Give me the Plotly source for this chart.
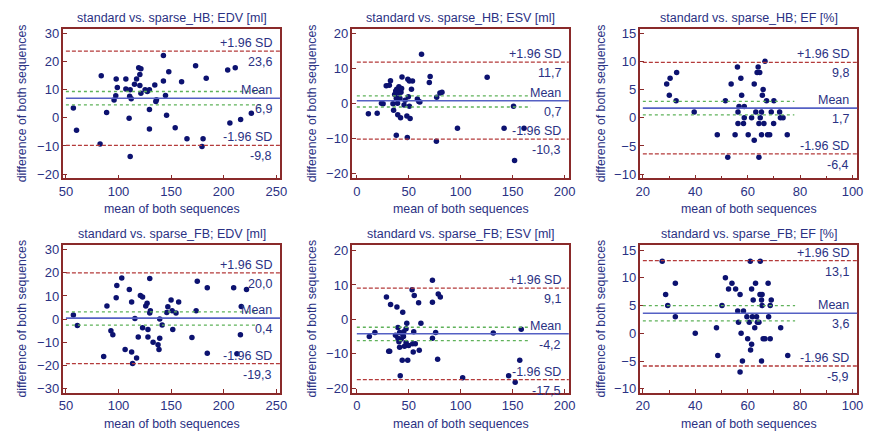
import plotly.graph_objects as go

W, H = 877, 436

titles = [
    "standard vs. sparse_HB; EDV [ml]",
    "standard vs. sparse_HB; ESV [ml]",
    "standard vs. sparse_HB; EF [%]",
    "standard vs. sparse_FB; EDV [ml]",
    "standard vs. sparse_FB; ESV [ml]",
    "standard vs. sparse_FB; EF [%]",
]
x_title = "mean of both sequences"
y_title = "difference of both sequences"
label_upper = "+1.96 SD"
label_mean = "Mean"
label_lower = "-1.96 SD"

# Panel 1: HB EDV
hb_edv_x = [57.1, 60.1, 83.6, 82.5, 88.7, 95.8, 98.9, 97.8, 97.4, 107.0, 107.0, 110.1, 110.6, 112.1,
            111.1, 111.1, 115.2, 117.2, 119.2, 120.3, 121.3, 120.3, 121.3, 125.3, 127.4, 129.4, 129.4,
            129.4, 134.5, 135.5, 136.1, 142.7, 142.7, 144.7, 145.7, 147.8, 153.9, 160.0, 165.1, 173.3,
            179.4, 180.4, 183.4, 203.8, 205.9, 211.0, 216.1, 226.3]
hb_edv_y = [3.5, -4.4, 14.9, -9.3, 1.9, 6.3, 10.7, 13.7, 7.8, 10.2, 13.7, -0.2, 7.6, 6.7, 9.9, -13.7,
            11.9, 13.7, 17.7, 15.3, 17.4, 11.4, 8.7, 9.9, 9.3, 9.9, 2.9, -4.0, 11.6, 5.8, 6.4, 22.1,
            13.0, 7.9, 0.9, 16.3, -3.5, 12.8, -7.4, 18.4, -10.2, -7.4, 14.0, 16.9, -1.9, 17.7, -0.6, 1.6]
hb_edv_stats = [23.6, 6.9, -9.8, 9.3, 4.6]   # upper, mean, lower, CI high, CI low
hb_edv_text = ["23,6", "6,9", "-9,8"]

# Panel 2: HB ESV
hb_esv_x = [11.1, 19.6, 23.7, 25.3, 28.3, 31.3, 32.4, 34.8, 35.4, 36.4, 37.4, 38.0, 38.4, 39.2, 39.4,
            39.8, 40.5, 41.2, 41.5, 38.0, 42.5, 43.5, 43.1, 42.1, 45.5, 46.5, 48.2, 48.6, 49.1, 49.6,
            50.6, 50.6, 51.3, 52.6, 53.6, 58.3, 59.7, 60.7, 62.3, 69.8, 70.6, 76.9, 76.6, 80.0, 82.0,
            96.9, 125.5, 141.8, 150.9, 151.9, 161.0]
hb_esv_y = [-3.0, -2.9, 0.0, -0.2, 5.0, 5.1, 6.4, -0.2, -2.0, 2.5, 3.5, 1.4, 4.0, 0.0, -3.3, 2.9, 4.7,
            3.6, 1.4, -9.2, 3.1, 7.5, 4.2, -4.2, -0.5, 0.8, -3.7, -9.8, 6.8, 1.8, 6.3, -0.9, -4.4,
            4.0, 6.3, 1.2, 0.5, 0.3, 14.0, 5.9, 7.6, 1.7, -10.9, 2.9, 3.1, -7.2, 7.4, -7.2, -0.9,
            -16.4, -7.2]
hb_esv_stats = [11.7, 0.7, -10.3, 2.1, -1.1]
hb_esv_text = ["11,7", "0,7", "-10,3"]

# Panel 3: HB EF
hb_ef_x = [29.1, 30.4, 30.1, 32.9, 32.7, 39.6, 48.4, 51.5, 52.4, 53.7, 55.2, 56.1, 56.3, 56.3, 56.7,
           57.4, 57.7, 58.4, 58.7, 58.7, 60.2, 61.5, 62.5, 62.5, 63.1, 64.0, 63.6, 64.6, 64.3, 64.3,
           64.8, 65.3, 65.3, 65.9, 65.6, 66.2, 66.6, 67.2, 67.6, 68.4, 69.0, 69.9, 70.0, 72.2, 72.5,
           73.5, 75.1]
hb_ef_y = [6, 7, 4, 8, 3, 1, -3, 3, -7, 6, -3, 9, 1, -1, 2, 7, 4, -1, 2, 0, -3, 0, 6, -4, 1, 9, 8, 8,
           -1, -7, 0, 1, -3, 5, 4, -1, 10, 3, -3, -3, 1, -1, 3, 1, 0, 0, -3]
hb_ef_stats = [9.8, 1.7, -6.4, 2.9, 0.5]
hb_ef_text = ["9,8", "1,7", "-6,4"]

# Panel 4: FB EDV
fb_edv_x = [57.1, 60.9, 85.9, 89.0, 92.8, 94.6, 97.8, 98.4, 103.1, 106.3, 110.3, 112.5, 112.5, 113.4,
            115.6, 117.2, 118.8, 120.8, 122.9, 122.9, 125.9, 127.2, 128.0, 128.0, 129.7, 130.3, 129.7,
            132.9, 137.6, 138.5, 139.2, 139.2, 141.5, 145.9, 146.9, 150.0, 151.0, 151.6, 154.7, 157.2,
            169.8, 173.8, 174.9, 184.4, 184.4, 209.5, 216.7, 215.9, 221.7, 212.6]
fb_edv_y = [1.8, -2.8, -16.2, 5.7, -5.0, -6.8, 9.2, 14.5, 17.8, -13.2, 12.8, 7.4, -14.2, -19.2, 0.3,
            -16.8, -7.8, 10.2, 9.5, -3.7, 5.7, 6.8, -4.5, -7.8, 2.6, 3.6, 17.5, -10.0, -11.1, -13.2,
            0.0, -8.3, -2.6, 2.8, 5.3, 8.3, 3.6, -4.5, 2.6, 7.4, -8.0, 3.6, 16.4, 13.5, -14.8, 13.5,
            5.4, -6.8, 12.8, -15.0]
fb_edv_stats = [20.0, 0.4, -19.3, 3.1, -2.6]
fb_edv_text = ["20,0", "0,4", "-19,3"]

# Panel 5: FB ESV
fb_esv_x = [12.0, 17.4, 28.5, 30.7, 31.6, 32.5, 37.2, 38.6, 39.6, 39.6, 40.5, 41.2, 41.2, 42.7, 41.8,
            43.7, 44.2, 44.2, 44.9, 45.2, 45.9, 47.4, 48.1, 47.4, 49.0, 49.9, 53.2, 53.8, 54.3, 54.8,
            55.3, 56.3, 59.5, 60.1, 61.7, 72.8, 72.8, 72.8, 75.9, 77.8, 78.4, 80.4, 101.9, 131.4,
            146.2, 152.5, 156.9, 158.3]
fb_esv_y = [-5.0, -3.8, 6.5, -9.3, -9.3, 4.3, -4.6, 3.6, -2.4, -5.5, -6.5, -3.8, -8.1, -5.7, -16.4,
            -11.9, 2.1, -4.3, -5.0, -3.6, -7.8, -6.7, -1.1, -2.7, -11.9, -7.6, 8.6, -7.1, -9.5, -3.6,
            6.9, -7.1, 4.8, -9.0, -1.1, 11.4, 5.0, -5.5, -3.8, -11.6, 7.4, 6.5, -17.0, -4.0, -16.4,
            -18.3, -11.9, -2.9]
fb_esv_stats = [9.1, -4.2, -17.5, -2.3, -6.2]
fb_esv_text = ["9,1", "-4,2", "-17,5"]

# Panel 6: FB EF
fb_ef_x = [27.4, 28.7, 29.5, 32.4, 32.4, 40.0, 48.1, 48.6, 50.2, 51.5, 52.7, 54.0, 55.4, 56.2, 56.5,
           57.1, 57.1, 57.5, 58.0, 58.4, 59.7, 60.0, 60.6, 61.0, 61.1, 61.5, 61.5, 61.8, 62.1, 62.7,
           63.0, 63.4, 63.7, 64.3, 64.7, 64.8, 65.3, 65.5, 65.3, 65.5, 65.9, 66.6, 67.8, 68.0, 68.6,
           69.0, 68.6, 72.6, 75.3]
fb_ef_y = [13, 7, 5, 9, 3, 0, 1, -4, 5, 10, 8, 9, 8, 4, 2, 7, -7, 0, -5, 4, 3, -1, 2, 13, -3, 8, -2,
           3, 6, 1, 9, 3, 2, 2, 7, 13, 6, 7, -5, 5, -1, -1, 9, 3, 5, 6, -1, 1, -4]
fb_ef_stats = [13.1, 3.6, -5.9, 5.0, 2.25]
fb_ef_text = ["13,1", "3,6", "-5,9"]

# axis settings per panel
x_ranges = [[47.7, 254], [-4.2, 204.2], [19.1, 101.9], [47.7, 254], [-4.2, 204.2], [19.1, 101.9]]
x_ticks = [[50, 100, 150, 200, 250], [0, 50, 100, 150, 200], [20, 40, 60, 80, 100],
           [50, 100, 150, 200, 250], [0, 50, 100, 150, 200], [20, 40, 60, 80, 100]]
x_minor = [[], [], [30, 50, 70, 90], [], [], [30, 50, 70, 90]]
y_ranges = [[-21.5, 31.6], [-21.5, 21.3], [-10.75, 15.8], [-31.8, 32.0], [-21.3, 21.6], [-10.7, 15.9]]
y_ticks = [[-20, -10, 0, 10, 20, 30], [-20, -10, 0, 10, 20], [-10, -5, 0, 5, 10, 15],
           [-30, -20, -10, 0, 10, 20, 30], [-20, -10, 0, 10, 20], [-10, -5, 0, 5, 10, 15]]
ci_end = [238, 167.7, 77.8, 232, 165.5, 78.1]

panels_x = [hb_edv_x, hb_esv_x, hb_ef_x, fb_edv_x, fb_esv_x, fb_ef_x]
panels_y = [hb_edv_y, hb_esv_y, hb_ef_y, fb_edv_y, fb_esv_y, fb_ef_y]
panels_stats = [hb_edv_stats, hb_esv_stats, hb_ef_stats, fb_edv_stats, fb_esv_stats, fb_ef_stats]
panels_text = [hb_edv_text, hb_esv_text, hb_ef_text, fb_edv_text, fb_esv_text, fb_ef_text]

# pixel boxes of the plot frames (left, right, top, bottom)
boxes = [(59.3, 279.3, 26, 178.3), (352.3, 571.7, 26, 178.3), (644.3, 864.3, 26, 178.3),
         (59.3, 279.3, 246, 396), (352.3, 571.7, 246, 396), (644.3, 864.3, 246, 396)]
ytitle_px = [17, 311, 604, 17, 311, 604]

TEXT = "#2a3183"
FRAME = "#8a2a2a"
DOT = "#0c1270"
RED = "#b43a3a"
BLUE = "#5560c4"
GREEN = "#5fb25a"
FONT = "Liberation Sans, Arial, sans-serif"

fig = go.Figure()
shapes = []
annotations = []
layout = {}

for i in range(6):
    suf = "" if i == 0 else str(i + 1)
    xa, ya = "x" + suf, "y" + suf
    l, r, t, b = boxes[i]
    fig.add_trace(go.Scatter(
        x=panels_x[i], y=panels_y[i], mode="markers",
        marker=dict(size=5.5, color=DOT), xaxis=xa, yaxis=ya,
        showlegend=False, hoverinfo="x+y"))
    xdict = dict(
        domain=[l / W, r / W], range=x_ranges[i], tickvals=x_ticks[i],
        showline=True, mirror=True, linecolor=FRAME, linewidth=1.5,
        ticks="inside", ticklen=4, tickcolor=FRAME, showgrid=False, zeroline=False,
        tickfont=dict(size=13, color=TEXT, family=FONT), anchor=ya)
    if x_minor[i]:
        xdict["minor"] = dict(tickvals=x_minor[i], ticks="inside", ticklen=2.5,
                              tickcolor=FRAME, showgrid=False)
    layout["xaxis" + suf] = xdict
    layout["yaxis" + suf] = dict(
        domain=[1 - b / H, 1 - t / H], range=y_ranges[i], tickvals=y_ticks[i],
        showline=True, mirror=True, linecolor=FRAME, linewidth=1.5,
        ticks="inside", ticklen=4, tickcolor=FRAME, showgrid=False, zeroline=False,
        tickfont=dict(size=13, color=TEXT, family=FONT), anchor=xa)

    up, mn, lo, cih, cil = panels_stats[i]
    x0 = x_ticks[i][0]
    x1 = x_ranges[i][1]
    for yv in (up, lo):
        shapes.append(dict(type="line", xref=xa, yref=ya, x0=x0, x1=x1, y0=yv, y1=yv,
                           line=dict(color=RED, width=1.3, dash="4px,2px")))
    for yv in (cih, cil):
        shapes.append(dict(type="line", xref=xa, yref=ya, x0=x0, x1=ci_end[i], y0=yv, y1=yv,
                           line=dict(color=GREEN, width=1.3, dash="dot")))
    shapes.append(dict(type="line", xref=xa, yref=ya, x0=x0, x1=x1, y0=mn, y1=mn,
                       line=dict(color=BLUE, width=1.6)))

    txt = panels_text[i]
    for lab, val, vt in ((label_upper, up, txt[0]), (label_mean, mn, txt[1]), (label_lower, lo, txt[2])):
        annotations.append(dict(text=lab, xref=xa + " domain", yref=ya, x=0.972, y=val,
                                xanchor="right", yanchor="bottom", showarrow=False, yshift=-1,
                                font=dict(size=12.5, color=TEXT, family=FONT)))
        annotations.append(dict(text=vt, xref=xa + " domain", yref=ya, x=0.972, y=val,
                                xanchor="right", yanchor="top", showarrow=False, yshift=-2,
                                font=dict(size=12.5, color=TEXT, family=FONT)))

    cx = (l + r) / 2
    ty = 15 if i < 3 else 235
    annotations.append(dict(text=titles[i], xref="paper", yref="paper", x=cx / W, y=1 - ty / H,
                            xanchor="center", yanchor="middle", showarrow=False,
                            font=dict(size=12.5, color=TEXT, family=FONT)))
    xty = 209 if i < 3 else 428
    annotations.append(dict(text=x_title, xref="paper", yref="paper", x=cx / W, y=1 - xty / H,
                            xanchor="center", yanchor="middle", showarrow=False,
                            font=dict(size=12.4, color=TEXT, family=FONT)))
    annotations.append(dict(text=y_title, xref="paper", yref="paper", x=ytitle_px[i] / W,
                            y=1 - ((t + b) / 2) / H, xanchor="center", yanchor="middle",
                            textangle=-90, showarrow=False,
                            font=dict(size=12.3, color=TEXT, family=FONT)))

fig.update_layout(
    width=W, height=H, margin=dict(l=0, r=0, t=0, b=0),
    paper_bgcolor="white", plot_bgcolor="white",
    shapes=shapes, annotations=annotations, **layout)

fig.write_html("out.html", config={"displayModeBar": False},
               post_script="document.body.style.margin='0';document.body.style.overflow='hidden';")
